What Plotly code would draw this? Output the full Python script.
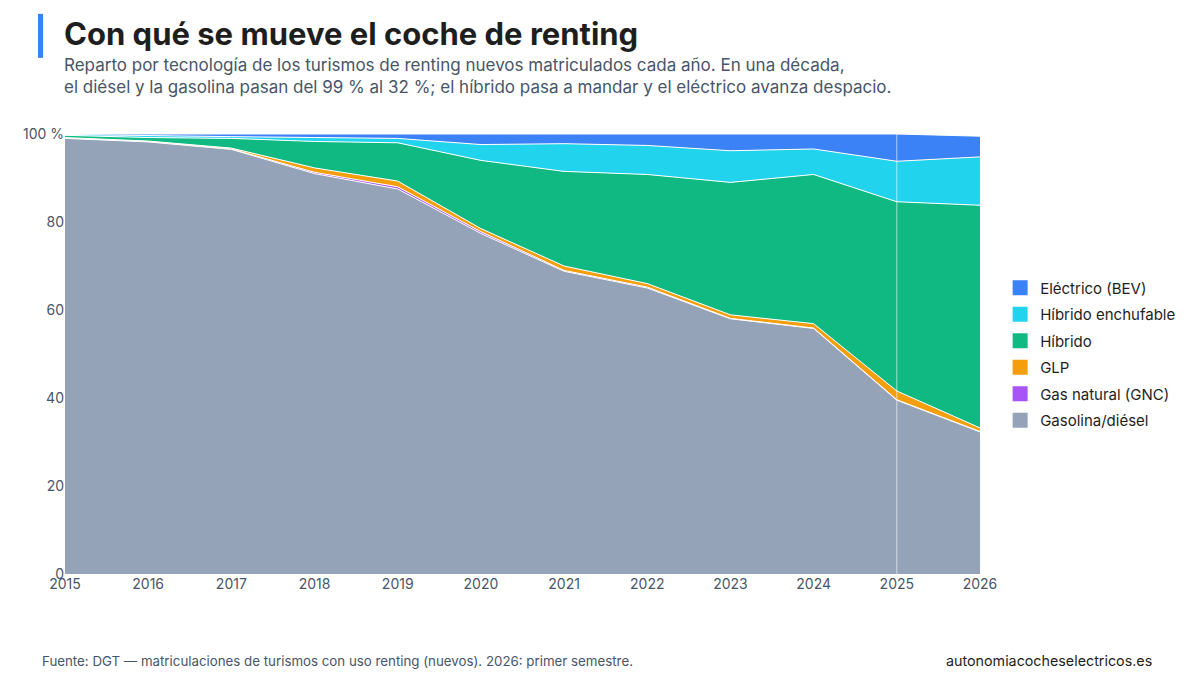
import plotly.graph_objects as go

years = list(range(2015, 2027))

# shares in % of new renting cars per year
gasolina_diesel = [99.0, 98.2, 96.5, 91.0, 87.5, 77.4, 68.8, 65.0, 58.0, 55.8, 39.5, 32.3]
gnc = [0.1, 0.1, 0.1, 0.3, 0.5, 0.4, 0.2, 0.2, 0.1, 0.1, 0.1, 0.1]
glp = [0.1, 0.1, 0.2, 1.0, 1.3, 0.7, 1.0, 0.8, 0.8, 1.0, 2.0, 0.8]
hibrido = [0.5, 0.8, 2.2, 6.0, 8.7, 15.5, 21.5, 24.8, 30.1, 33.9, 43.0, 50.6]
phev = [0.2, 0.4, 0.4, 0.9, 1.0, 3.6, 6.3, 6.6, 7.2, 5.8, 9.2, 11.0]
bev = [0.1, 0.4, 0.6, 0.8, 1.0, 2.4, 2.2, 2.6, 3.8, 3.4, 6.2, 4.7]

series = [
    ("Gasolina/diésel", gasolina_diesel, "#94a3b8"),
    ("Gas natural (GNC)", gnc, "#a855f7"),
    ("GLP", glp, "#f59e0b"),
    ("Híbrido", hibrido, "#10b981"),
    ("Híbrido enchufable", phev, "#22d3ee"),
    ("Eléctrico (BEV)", bev, "#3b82f6"),
]

fig = go.Figure()
for i, (name, vals, col) in enumerate(series):
    fig.add_trace(go.Scatter(
        x=years, y=vals, name=name, stackgroup="one", mode="lines",
        line={"color": "white", "width": 1}, fillcolor=col, showlegend=False,
        hovertemplate="%{y:.1f} %<extra>" + name + "</extra>"))
    # legend entry with a square swatch
    fig.add_trace(go.Scatter(x=[None], y=[None], name=name, mode="markers", legendgroup=name,
                             legendrank=100 - i,
                             marker={"symbol": "square", "size": 15, "color": col}))

fig.add_vline(x=2025, line_color="rgba(255,255,255,0.6)", line_width=1)

font = "Inter, 'Noto Sans', sans-serif"
fig.update_layout(
    width=1200, height=684,
    paper_bgcolor="white", plot_bgcolor="white",
    font={"family": font, "color": "#475569", "size": 14},
    margin={"l": 57, "r": 228, "t": 126, "b": 118, "autoexpand": False},
    legend={"x": 1.022, "y": 0.5, "yanchor": "middle", "traceorder": "grouped",
            "font": {"size": 15, "color": "#1e1e1e"}, "itemwidth": 30, "tracegroupgap": 4},
    xaxis={"range": [2015, 2026], "dtick": 1, "showgrid": False, "ticks": "",
           "tickfont": {"size": 14}},
    yaxis={"range": [0, 100], "gridcolor": "rgba(255,255,255,0.7)",
           "tickvals": [0, 20, 40, 60, 80, 100],
           "ticktext": ["0", "20", "40", "60", "80", "100 %"], "tickfont": {"size": 14}},
)
fig.update_yaxes(layer="above traces", zeroline=False)
fig.add_shape(type="rect", xref="paper", yref="paper", x0=-0.0295, x1=-0.024, y0=1.173, y1=1.273,
              fillcolor="#3b82f6", line_width=0)
fig.add_annotation(text="<b>Con qué se mueve el coche de renting</b>", xref="paper", yref="paper",
                   x=-0.003, y=1.275, xanchor="left", yanchor="top", showarrow=False,
                   font={"size": 31, "color": "#1e1e1e"})
fig.add_annotation(text="Reparto por tecnología de los turismos de renting nuevos matriculados cada año. En una década,"
                        "<br>el diésel y la gasolina pasan del 99 % al 32 %; el híbrido pasa a mandar y el eléctrico avanza despacio.",
                   xref="paper", yref="paper", x=-0.003, y=1.183, xanchor="left", yanchor="top",
                   align="left", showarrow=False, font={"size": 17, "color": "#475569"})
fig.add_annotation(text="Fuente: DGT — matriculaciones de turismos con uso renting (nuevos). 2026: primer semestre.",
                   xref="paper", yref="paper", x=-0.027, y=-0.221, xanchor="left", showarrow=False,
                   font={"size": 13.3, "color": "#475569"})
fig.add_annotation(text="autonomiacocheselectricos.es", xref="paper", yref="paper", x=1.19, y=-0.221,
                   xanchor="right", showarrow=False, font={"size": 14.3, "color": "#1e1e1e"})
fig.write_html("out.html")
